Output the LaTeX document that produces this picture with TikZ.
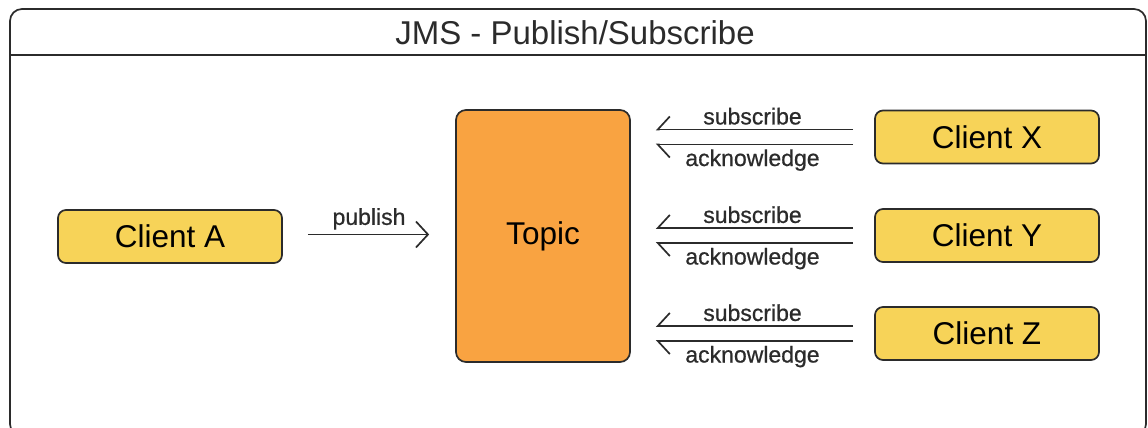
\documentclass[tikz,border=0pt]{standalone}
\usepackage{fontspec}
\setmainfont{Liberation Sans}
\usetikzlibrary{arrows.meta,positioning}

\definecolor{clientfill}{HTML}{F7D358}
\definecolor{topicfill}{HTML}{F9A341}
\definecolor{edge}{HTML}{2B2B2B}

\begin{document}
\begin{tikzpicture}[x=1pt,y=-1pt,line width=1.7pt,
  cl/.style={draw=edge,rounded corners=8pt,fill=clientfill,minimum width=224pt,minimum height=53pt,font=\fontsize{31.5}{34}\selectfont},
  tp/.style={draw=edge,rounded corners=10pt,fill=topicfill,minimum width=174pt,minimum height=252pt,font=\fontsize{31.5}{34}\selectfont},
  lbl/.style={font=\fontsize{23}{26}\selectfont\addfontfeature{FakeBold=0.7},inner sep=4pt,text=edge},
  pub/.style={-{Straight Barb[length=12pt,width=26pt,line width=1.7pt]},shorten <=25pt,shorten >=26pt},
  sub/.style={-{Straight Barb[harpoon,swap,length=12pt,width=26pt,line width=1.7pt]},shorten <=21pt,shorten >=25pt},
  ack/.style={-{Straight Barb[harpoon,length=12pt,width=26pt,line width=1.7pt]},shorten <=21pt,shorten >=25pt}]
\useasboundingbox (0,0) rectangle (1148,428);
% frame and title
\draw[edge,rounded corners=12pt] (10,9) rectangle (1146,436);
\draw[edge] (10,55) -- (1146,55);
\node[font=\fontsize{33}{36}\selectfont,text=edge] (title) at (575,33) {JMS - Publish/Subscribe};
% nodes
\node[tp] (topic) at (543,236) {Topic};
\node[cl] (ca) at (170,236.5) {Client A};
\node[cl] (cx) at (987,137) {Client X};
\node[cl] (cy) at (987,235.5) {Client Y};
\node[cl] (cz) at (987,333.5) {Client Z};
% publish
\draw[pub,edge] ([yshift=2pt]ca.east) -- ([yshift=2pt]ca.east -| topic.west) node[lbl,midway,above] {publish};
% subscribe / acknowledge
\foreach \c in {cx,cy,cz}{
  \draw[sub,edge] ([yshift=7.5pt]\c.west) -- ([yshift=7.5pt]\c.west -| topic.east) node[lbl,midway,above] {subscribe};
  \draw[ack,edge] ([yshift=-7.5pt]\c.west) -- ([yshift=-7.5pt]\c.west -| topic.east) node[lbl,midway,below] {acknowledge};
}
\end{tikzpicture}
\end{document}
